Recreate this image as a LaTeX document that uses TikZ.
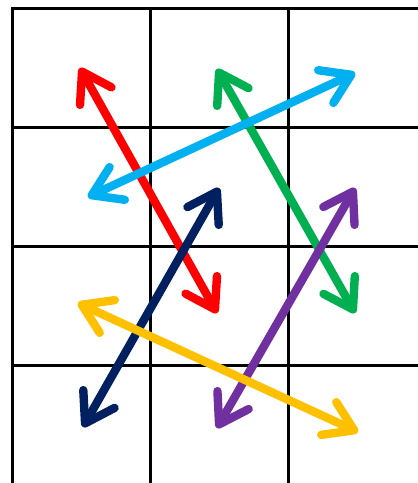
\documentclass[tikz,border=0pt]{standalone}
\usepackage{tikz}
\usetikzlibrary{arrows.meta}
\definecolor{ArRed}{HTML}{FF0000}
\definecolor{ArGreen}{HTML}{00B050}
\definecolor{ArCyan}{HTML}{00B0F0}
\definecolor{ArNavy}{HTML}{002060}
\definecolor{ArPurple}{HTML}{7030A0}
\definecolor{ArYellow}{HTML}{FFC000}
\tikzset{gridline/.style={line width=1.5pt,black},
 twoway/.style={line width=4.2pt,line cap=round,
 {Straight Barb[length=14pt,width=18pt,round]}-{Straight Barb[length=14pt,width=18pt,round]}}}
\begin{document}
\begin{tikzpicture}[x=0.5pt,y=-0.5pt]
\useasboundingbox (0,0) rectangle (418,483);
% grid
\draw[gridline] (12,483)--(12,8)--(418,8);
\foreach \x in {150,288}
 \draw[gridline] (\x,8)--(\x,483);
\foreach \y in {127,246,365}
 \draw[gridline] (12,\y)--(418,\y);
% arrow ends
\coordinate (reda) at (80,68);
\coordinate (redb) at (217,313);
\coordinate (greena) at (217,69);
\coordinate (greenb) at (355,313);
\coordinate (cyana) at (88,197);
\coordinate (cyanb) at (355,73);
\coordinate (navya) at (83,427);
\coordinate (navyb) at (219,188);
\coordinate (purplea) at (217,428);
\coordinate (purpleb) at (355,188);
\coordinate (yellowa) at (78,303);
\coordinate (yellowb) at (358,432);
% arrows
\draw[twoway,ArRed] (reda)--(redb);
\draw[twoway,ArGreen] (greena)--(greenb);
\draw[twoway,ArCyan] (cyana)--(cyanb);
\draw[twoway,ArNavy] (navya)--(navyb);
\draw[twoway,ArPurple] (purplea)--(purpleb);
\draw[twoway,ArYellow] (yellowa)--(yellowb);
\end{tikzpicture}
\end{document}
